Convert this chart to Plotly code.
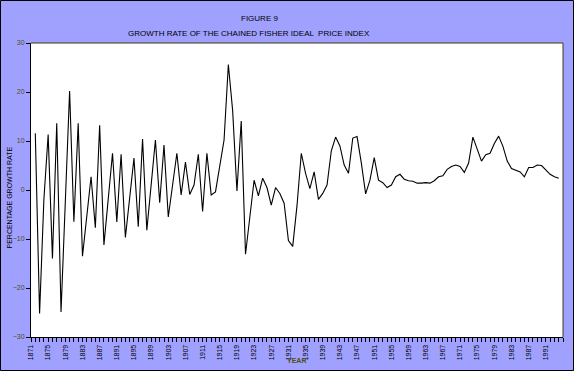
import plotly.graph_objects as go

# ---- data ----
years = list(range(1872, 1995))
growth = [
    11.6, -25.2, -2.0, 11.3, -14.0, 13.6, -24.9, -1.0, 20.2, -6.5,      # 1872-1881
    13.6, -13.5, -5.0, 2.7, -7.7, 13.2, -11.2, -2.0, 7.5, -6.5,         # 1882-1891
    7.3, -9.7, -1.5, 6.5, -7.5, 10.4, -8.2, 1.0, 10.2, -2.6,            # 1892-1901
    9.2, -5.5, 1.0, 7.5, -1.0, 5.7, -0.9, 1.0, 7.3, -4.4,               # 1902-1911
    7.5, -1.0, -0.4, 5.3, 10.2, 25.6, 16.2, -0.2, 14.1, -13.1,          # 1912-1921
    -6.0, 2.0, -1.2, 2.4, 0.5, -3.1, 0.5, -0.7, -2.7, -10.3,            # 1922-1931
    -11.5, -3.2, 7.5, 3.4, 0.3, 3.7, -1.9, -0.7, 1.0, 8.0,              # 1932-1941
    10.8, 9.0, 5.1, 3.4, 10.6, 10.9, 5.5, -0.8, 2.0, 6.6,               # 1942-1951
    2.0, 1.5, 0.5, 1.0, 2.7, 3.2, 2.2, 1.9, 1.8, 1.4,                   # 1952-1961
    1.4, 1.5, 1.4, 1.9, 2.7, 2.9, 4.2, 4.8, 5.1, 4.8,                   # 1962-1971
    3.6, 5.5, 10.8, 8.5, 5.9, 7.2, 7.5, 9.5, 11.0, 8.9,                 # 1972-1981
    5.9, 4.4, 4.1, 3.7, 2.7, 4.6, 4.6, 5.1, 5.0, 4.1,                   # 1982-1991
    3.2, 2.7, 2.4,                                                      # 1992-1994
]
axis_years = list(range(1871, 1996))
label_years = [1871, 1875, 1879, 1883, 1887, 1891, 1895, 1899, 1903, 1907,
               1911, 1915, 1919, 1923, 1927, 1931, 1935, 1939, 1943, 1947,
               1951, 1955, 1959, 1963, 1967, 1971, 1975, 1979, 1983, 1987, 1991]
y_ticks = [-30, -20, -10, 0, 10, 20, 30]

title_1 = "FIGURE 9"
title_2 = "GROWTH RATE OF THE CHAINED FISHER IDEAL  PRICE INDEX"
x_title = "YEAR"
y_title = "PERCENTAGE GROWTH RATE"

# ---- figure ----
W, H = 574, 371
ML, MR, MT, MB = 31, 11, 43, 34
PW, PH = W - ML - MR, H - MT - MB

def px_x(p):
    return (p - ML) / PW

def px_y(p):
    return (H - MB - p) / PH

FONT = "Liberation Sans, Arial, sans-serif"
BG = "#A0A0FF"
OLIVE = "#4f4f14"

fig = go.Figure()
fig.add_trace(go.Scatter(
    x=years, y=growth, mode="lines",
    line=dict(color="black", width=1.1),
    showlegend=False, hoverinfo="skip",
))

tick_text = [str(y) if y in label_years else "" for y in axis_years]

fig.update_layout(
    width=W, height=H,
    margin=dict(l=ML, r=MR, t=MT, b=MB, pad=0),
    paper_bgcolor=BG, plot_bgcolor="white",
    font=dict(family=FONT, size=7, color="black"),
    showlegend=False,
    xaxis=dict(
        range=[1871, 1995], tickmode="array",
        tickvals=axis_years, ticktext=tick_text,
        tickangle=-90, ticks="outside", ticklen=4, tickwidth=1, tickcolor="black",
        showline=True, linecolor="black", linewidth=1,
        showgrid=False, zeroline=False,
        tickfont=dict(family=FONT, size=7, color="black"),
    ),
    yaxis=dict(
        range=[-30, 30], tickmode="array", tickvals=y_ticks,
        ticks="outside", ticklen=4, tickwidth=1, tickcolor="black",
        showline=True, linecolor="black", linewidth=1,
        showgrid=False, zeroline=False,
        tickfont=dict(family=FONT, size=7, color=OLIVE),
    ),
    annotations=[
        dict(text=title_1, xref="paper", yref="paper", x=px_x(259), y=px_y(18.5),
             xanchor="center", yanchor="middle", showarrow=False,
             font=dict(family=FONT, size=8, color="black")),
        dict(text=title_2, xref="paper", yref="paper", x=px_x(249), y=px_y(33.5),
             xanchor="center", yanchor="middle", showarrow=False,
             font=dict(family=FONT, size=8, color="black")),
        dict(text="<b>" + x_title + "</b>", xref="paper", yref="paper", x=px_x(296), y=px_y(360),
             xanchor="center", yanchor="middle", showarrow=False,
             font=dict(family=FONT, size=7, color=OLIVE)),
        dict(text=y_title, xref="paper", yref="paper", x=px_x(8.5), y=px_y(198),
             xanchor="center", yanchor="middle", showarrow=False, textangle=-90,
             font=dict(family=FONT, size=7, color="black")),
    ],
    shapes=[
        dict(type="line", xref="paper", yref="paper", x0=0, x1=1, y0=1, y1=1,
             line=dict(color="#3d3d10", width=1)),
        dict(type="line", xref="paper", yref="paper", x0=1, x1=1, y0=0, y1=1,
             line=dict(color="#3d3d10", width=1)),
        dict(type="rect", xref="paper", yref="paper",
             x0=px_x(0.5), x1=px_x(W - 0.5), y0=px_y(H - 0.5), y1=px_y(0.5),
             line=dict(color="black", width=1), fillcolor="rgba(0,0,0,0)"),
    ],
)

fig.write_html(
    "out.html",
    config={"displayModeBar": False},
    post_script="document.body.style.margin='0px';document.body.style.padding='0px';"
                "document.body.style.overflow='hidden';",
)
